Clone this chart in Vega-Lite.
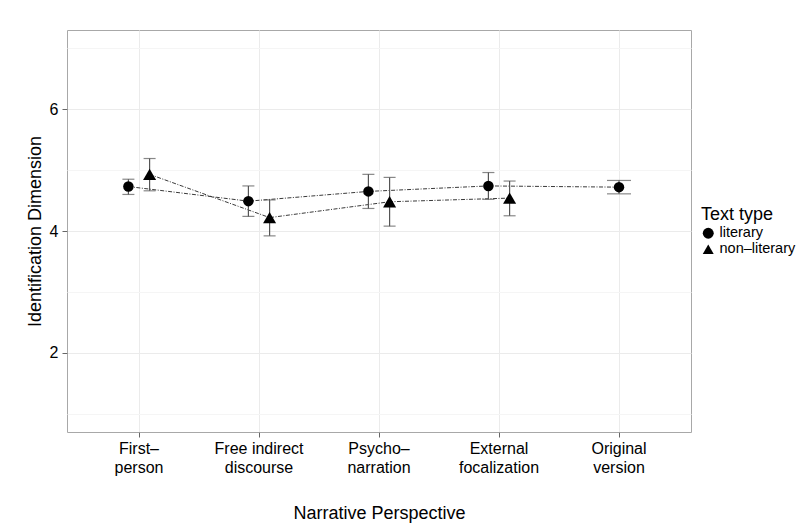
{
  "$schema": "https://vega.github.io/schema/vega-lite/v6.json",
  "width": 624,
  "height": 402,
  "autosize": {"type": "none"},
  "padding": {"left": 67, "top": 30, "right": 116, "bottom": 97},
  "background": "white",
  "config": {
    "font": "Liberation Sans",
    "view": {"stroke": "#a8a8a8", "strokeWidth": 1},
    "axis": {
      "domain": false,
      "labelColor": "#000",
      "titleColor": "#000",
      "tickColor": "#666",
      "tickSize": 5,
      "titleFontWeight": "normal",
      "labelFontSize": 16,
      "titleFontSize": 18,
      "gridColor": "#ebebeb",
      "gridWidth": 1
    },
    "legend": {
      "titleFontWeight": "normal",
      "titleFontSize": 18,
      "labelFontSize": 14.5,
      "titleColor": "#000",
      "labelColor": "#000"
    }
  },
  "data": {
    "values": [
      {"perspective": "First-person", "type": "literary", "mean": 4.73, "lo": 4.60, "hi": 4.85},
      {"perspective": "First-person", "type": "non-literary", "mean": 4.93, "lo": 4.66, "hi": 5.19},
      {"perspective": "Free indirect discourse", "type": "literary", "mean": 4.49, "lo": 4.24, "hi": 4.74},
      {"perspective": "Free indirect discourse", "type": "non-literary", "mean": 4.22, "lo": 3.92, "hi": 4.51},
      {"perspective": "Psycho-narration", "type": "literary", "mean": 4.65, "lo": 4.37, "hi": 4.93},
      {"perspective": "Psycho-narration", "type": "non-literary", "mean": 4.48, "lo": 4.08, "hi": 4.88},
      {"perspective": "External focalization", "type": "literary", "mean": 4.74, "lo": 4.52, "hi": 4.96},
      {"perspective": "External focalization", "type": "non-literary", "mean": 4.54, "lo": 4.25, "hi": 4.82},
      {"perspective": "Original version", "type": "literary", "mean": 4.72, "lo": 4.61, "hi": 4.83}
    ]
  },
  "transform": [
    {"joinaggregate": [{"op": "count", "as": "ngroups"}], "groupby": ["perspective"]},
    {"calculate": "datum.ngroups > 1 ? datum.type : 'mid'", "as": "dodge"}
  ],
  "encoding": {
    "x": {
      "field": "perspective",
      "type": "nominal",
      "sort": ["First-person", "Free indirect discourse", "Psycho-narration", "External focalization", "Original version"],
      "scale": {"type": "band", "paddingInner": 0, "paddingOuter": 0.1},
      "axis": {
        "title": "Narrative Perspective",
        "labelAngle": 0,
        "labelPadding": 3,
        "labelLineHeight": 19,
        "titlePadding": 29,
        "bandPosition": 0.5,
        "grid": true,
        "labelExpr": "datum.value == 'First-person' ? ['First–', 'person'] : datum.value == 'Free indirect discourse' ? ['Free indirect', 'discourse'] : datum.value == 'Psycho-narration' ? ['Psycho–', 'narration'] : datum.value == 'External focalization' ? ['External', 'focalization'] : ['Original', 'version']"
      }
    },
    "xOffset": {
      "field": "dodge",
      "type": "nominal",
      "scale": {"type": "point", "domain": ["literary", "mid", "non-literary"], "padding": 0, "range": [49.4, 70.6]}
    }
  },
  "layer": [
    {
      "mark": {"type": "line", "color": "#3a3a3a", "strokeWidth": 1, "strokeDash": [4, 1.5, 1, 1.5]},
      "encoding": {
        "y": {
          "field": "mean",
          "type": "quantitative",
          "scale": {"domain": [0.7, 7.3], "nice": false, "zero": false},
          "axis": {
            "title": "Identification Dimension",
            "values": [1, 2, 3, 4, 5, 6, 7],
            "format": "d",
            "labelPadding": 4,
            "titlePadding": 5,
            "labelExpr": "datum.value % 2 === 0 ? datum.label : ''",
            "tickOpacity": {"condition": {"test": "datum.value % 2 === 0", "value": 1}, "value": 0},
            "gridColor": {"condition": {"test": "datum.value % 2 === 0", "value": "#ebebeb"}, "value": "#f5f5f5"}
          }
        },
        "detail": {"field": "type"}
      }
    },
    {
      "mark": {"type": "rule", "color": "#555", "strokeWidth": 1.2},
      "encoding": {
        "y": {"field": "lo", "type": "quantitative"},
        "y2": {"field": "hi"}
      }
    },
    {
      "transform": [{"fold": ["lo", "hi"], "as": ["end", "val"]}],
      "mark": {"type": "tick", "color": "#555", "thickness": 1.2, "orient": "horizontal"},
      "encoding": {
        "y": {"field": "val", "type": "quantitative"},
        "size": {"condition": {"test": "datum.dodge === 'mid'", "value": 24}, "value": 12}
      }
    },
    {
      "mark": {"type": "point", "filled": true, "color": "#000", "opacity": 1},
      "encoding": {
        "y": {"field": "mean", "type": "quantitative"},
        "shape": {
          "field": "type",
          "type": "nominal",
          "scale": {"domain": ["literary", "non-literary"], "range": ["circle", "triangle-up"]},
          "legend": {
            "title": "Text type",
            "orient": "none",
            "legendX": 634,
            "legendY": 176,
            "padding": 0,
            "titlePadding": 2,
            "rowPadding": -8,
            "labelOffset": 4,
            "symbolSize": 120,
            "symbolFillColor": "#000",
            "symbolStrokeColor": "#000",
            "labelExpr": "replace(datum.label, '-', '–')"
          }
        },
        "size": {"condition": {"test": "datum.type === 'literary'", "value": 110}, "value": 170}
      }
    }
  ]
}
